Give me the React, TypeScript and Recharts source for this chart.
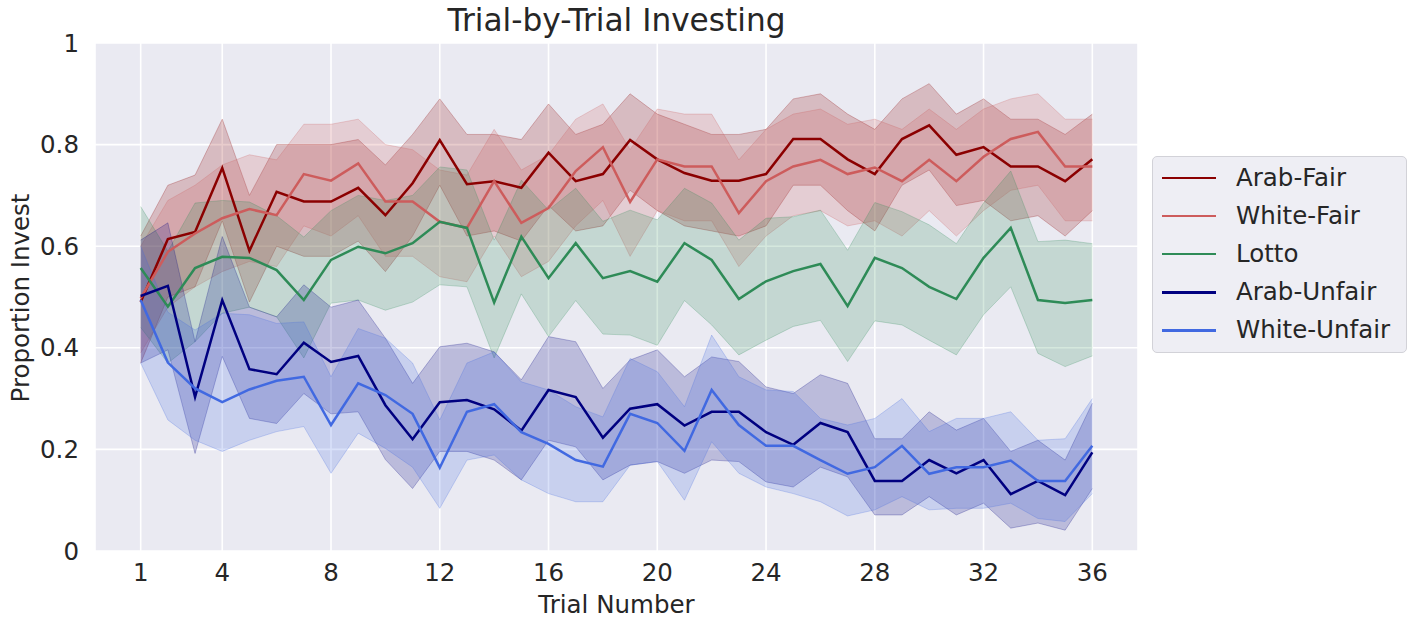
import React from "react";
import { Area, CartesianGrid, ComposedChart, Line, XAxis, YAxis } from "recharts";

// Trial-by-trial mean proportion invested per condition, with the 95% CI band.
const trials = Array.from({ length: 36 }, (_, i) => i + 1);

const arabFair = [0.49, 0.614, 0.628, 0.754, 0.591, 0.707, 0.688, 0.688, 0.715, 0.661, 0.724, 0.809, 0.722, 0.728, 0.715, 0.784, 0.728, 0.742, 0.809, 0.771, 0.744, 0.729, 0.729, 0.742, 0.811, 0.811, 0.771, 0.742, 0.811, 0.838, 0.78, 0.795, 0.757, 0.757, 0.728, 0.771];
const arabFairHi = [0.62, 0.72, 0.74, 0.85, 0.7, 0.8, 0.8, 0.8, 0.81, 0.76, 0.82, 0.89, 0.82, 0.82, 0.81, 0.88, 0.82, 0.84, 0.9, 0.86, 0.84, 0.82, 0.82, 0.83, 0.89, 0.9, 0.86, 0.83, 0.89, 0.92, 0.86, 0.89, 0.85, 0.85, 0.82, 0.86];
const arabFairLo = [0.37, 0.5, 0.52, 0.65, 0.49, 0.6, 0.58, 0.58, 0.61, 0.55, 0.62, 0.72, 0.62, 0.63, 0.61, 0.68, 0.63, 0.64, 0.71, 0.67, 0.64, 0.63, 0.62, 0.64, 0.72, 0.72, 0.67, 0.63, 0.72, 0.75, 0.68, 0.69, 0.65, 0.66, 0.62, 0.67];

const whiteFair = [0.498, 0.589, 0.625, 0.655, 0.673, 0.661, 0.742, 0.729, 0.763, 0.688, 0.688, 0.648, 0.636, 0.728, 0.646, 0.675, 0.748, 0.795, 0.687, 0.771, 0.757, 0.757, 0.665, 0.728, 0.757, 0.77, 0.742, 0.755, 0.728, 0.77, 0.728, 0.776, 0.811, 0.825, 0.757, 0.757];
const whiteFairHi = [0.6, 0.69, 0.72, 0.76, 0.78, 0.77, 0.84, 0.84, 0.85, 0.8, 0.79, 0.75, 0.74, 0.83, 0.75, 0.78, 0.85, 0.88, 0.79, 0.87, 0.86, 0.86, 0.77, 0.83, 0.86, 0.87, 0.84, 0.85, 0.83, 0.87, 0.83, 0.87, 0.89, 0.9, 0.85, 0.85];
const whiteFairLo = [0.39, 0.48, 0.52, 0.55, 0.57, 0.56, 0.64, 0.62, 0.66, 0.58, 0.58, 0.54, 0.53, 0.62, 0.54, 0.57, 0.64, 0.69, 0.58, 0.67, 0.65, 0.65, 0.56, 0.62, 0.66, 0.67, 0.64, 0.65, 0.62, 0.67, 0.62, 0.67, 0.71, 0.72, 0.65, 0.65];

const lotto = [0.557, 0.481, 0.557, 0.579, 0.577, 0.553, 0.494, 0.573, 0.599, 0.586, 0.606, 0.648, 0.636, 0.489, 0.619, 0.537, 0.606, 0.537, 0.551, 0.53, 0.606, 0.573, 0.496, 0.531, 0.551, 0.565, 0.482, 0.577, 0.557, 0.52, 0.496, 0.577, 0.636, 0.494, 0.488, 0.494];
const lottoHi = [0.678, 0.59, 0.685, 0.69, 0.687, 0.66, 0.618, 0.67, 0.7, 0.69, 0.7, 0.756, 0.75, 0.612, 0.73, 0.671, 0.714, 0.649, 0.671, 0.652, 0.714, 0.685, 0.612, 0.655, 0.658, 0.671, 0.592, 0.686, 0.668, 0.642, 0.605, 0.685, 0.748, 0.609, 0.612, 0.605];
const lottoLo = [0.44, 0.37, 0.412, 0.468, 0.48, 0.461, 0.38, 0.488, 0.494, 0.474, 0.49, 0.524, 0.52, 0.38, 0.506, 0.422, 0.493, 0.427, 0.425, 0.405, 0.493, 0.445, 0.386, 0.415, 0.442, 0.454, 0.373, 0.453, 0.445, 0.415, 0.386, 0.465, 0.52, 0.389, 0.363, 0.384];

const arabUnfair = [0.502, 0.522, 0.303, 0.494, 0.358, 0.348, 0.41, 0.372, 0.384, 0.287, 0.22, 0.293, 0.297, 0.279, 0.237, 0.317, 0.303, 0.223, 0.28, 0.289, 0.247, 0.274, 0.274, 0.234, 0.209, 0.252, 0.234, 0.138, 0.138, 0.179, 0.153, 0.179, 0.112, 0.138, 0.11, 0.194];
const arabUnfairHi = [0.612, 0.646, 0.412, 0.619, 0.48, 0.461, 0.524, 0.48, 0.494, 0.419, 0.33, 0.402, 0.409, 0.392, 0.337, 0.422, 0.412, 0.32, 0.376, 0.396, 0.343, 0.382, 0.373, 0.323, 0.31, 0.347, 0.33, 0.221, 0.221, 0.274, 0.238, 0.261, 0.196, 0.218, 0.179, 0.291];
const arabUnfairLo = [0.37, 0.396, 0.192, 0.383, 0.261, 0.251, 0.31, 0.27, 0.274, 0.18, 0.123, 0.196, 0.196, 0.179, 0.14, 0.218, 0.205, 0.14, 0.169, 0.176, 0.153, 0.179, 0.176, 0.136, 0.126, 0.165, 0.146, 0.071, 0.071, 0.107, 0.071, 0.094, 0.045, 0.055, 0.041, 0.123];

const whiteUnfair = [0.494, 0.371, 0.32, 0.293, 0.318, 0.335, 0.343, 0.248, 0.33, 0.307, 0.27, 0.164, 0.274, 0.289, 0.234, 0.211, 0.179, 0.166, 0.27, 0.252, 0.197, 0.317, 0.248, 0.207, 0.207, 0.179, 0.152, 0.165, 0.207, 0.152, 0.165, 0.165, 0.178, 0.138, 0.138, 0.207];
const whiteUnfairHi = [0.6, 0.47, 0.435, 0.468, 0.465, 0.448, 0.451, 0.343, 0.438, 0.419, 0.37, 0.258, 0.37, 0.392, 0.333, 0.317, 0.284, 0.264, 0.379, 0.353, 0.284, 0.425, 0.343, 0.317, 0.314, 0.261, 0.248, 0.261, 0.3, 0.235, 0.261, 0.261, 0.274, 0.218, 0.221, 0.3];
const whiteUnfairLo = [0.37, 0.258, 0.218, 0.196, 0.218, 0.235, 0.245, 0.153, 0.232, 0.202, 0.165, 0.084, 0.179, 0.189, 0.14, 0.113, 0.097, 0.097, 0.169, 0.176, 0.1, 0.215, 0.153, 0.126, 0.113, 0.097, 0.069, 0.081, 0.107, 0.081, 0.084, 0.084, 0.094, 0.064, 0.058, 0.113];

const xTicks = [1, 4, 8, 12, 16, 20, 24, 28, 32, 36];
const yTicks = [0, 0.2, 0.4, 0.6, 0.8, 1];

const series = [
  { key: "af", name: "Arab-Fair", color: "#8b0000" },
  { key: "wf", name: "White-Fair", color: "#cd5c5c" },
  { key: "lo", name: "Lotto", color: "#2e8b57" },
  { key: "au", name: "Arab-Unfair", color: "#000080" },
  { key: "wu", name: "White-Unfair", color: "#4169e1" },
];

const data = trials.map((t, i) => ({
  trial: t,
  af: arabFair[i],
  afBand: [arabFairLo[i], arabFairHi[i]],
  wf: whiteFair[i],
  wfBand: [whiteFairLo[i], whiteFairHi[i]],
  lo: lotto[i],
  loBand: [lottoLo[i], lottoHi[i]],
  au: arabUnfair[i],
  auBand: [arabUnfairLo[i], arabUnfairHi[i]],
  wu: whiteUnfair[i],
  wuBand: [whiteUnfairLo[i], whiteUnfairHi[i]],
}));

const font = "'DejaVu Sans', sans-serif";
const ink = "#262626";
const textSize = 24.5;

function LegendBox() {
  return (
    <div
      style={{
        position: "absolute",
        left: 1152,
        top: 156,
        width: 255,
        height: 197,
        boxSizing: "border-box",
        background: "#eeeef4",
        border: "1px solid #d2d2d8",
        borderRadius: 5,
        paddingTop: 2,
        fontFamily: font,
      }}
    >
      {series.map((s) => (
        <div key={s.key} style={{ display: "flex", alignItems: "center", height: 38.1 }}>
          <div style={{ marginLeft: 9, width: 54, height: 2.4, background: s.color }} />
          <div style={{ marginLeft: 20, fontSize: textSize, color: ink, lineHeight: "28px" }}>{s.name}</div>
        </div>
      ))}
    </div>
  );
}

export default function App() {
  if (typeof document !== "undefined") document.body.style.margin = "0";
  return (
    <div style={{ position: "relative", width: 1418, height: 624, background: "#fff", fontFamily: font }}>
      <ComposedChart width={1418} height={624} data={data} margin={{ top: 43, right: 280, bottom: 0, left: 35 }}>
        <CartesianGrid fill="#eaeaf2" stroke="#ffffff" strokeWidth={1.6} />
        <XAxis
          dataKey="trial"
          type="number"
          domain={[-0.68, 37.68]}
          ticks={xTicks}
          height={73}
          axisLine={false}
          tickLine={false}
          tickSize={0}
          tickMargin={13}
          tick={{ fontSize: textSize, fill: ink, fontFamily: font }}
        />
        <YAxis
          domain={[0, 1]}
          ticks={yTicks}
          width={60}
          axisLine={false}
          tickLine={false}
          tickSize={0}
          tickMargin={16}
          tickFormatter={(v: number) => String(Math.round(v * 10) / 10)}
          tick={{ fontSize: textSize, fill: ink, fontFamily: font }}
        />
        {series.map((s) => (
          <Area
            key={s.key + "Band"}
            type="linear"
            dataKey={s.key + "Band"}
            fill={s.color}
            fillOpacity={0.2}
            stroke={s.color}
            strokeOpacity={0.25}
            strokeWidth={1}
            dot={false}
            activeDot={false}
            isAnimationActive={false}
            legendType="none"
          />
        ))}
        {series.map((s) => (
          <Line
            key={s.key}
            type="linear"
            dataKey={s.key}
            name={s.name}
            stroke={s.color}
            strokeWidth={2.5}
            dot={false}
            activeDot={false}
            isAnimationActive={false}
          />
        ))}
      </ComposedChart>
      <div style={{ position: "absolute", left: 95, width: 1043, top: 2, textAlign: "center", fontSize: 31.2, color: ink }}>
        Trial-by-Trial Investing
      </div>
      <div style={{ position: "absolute", left: 95, width: 1043, top: 590, textAlign: "center", fontSize: textSize, color: ink }}>
        Trial Number
      </div>
      <div
        style={{
          position: "absolute",
          left: 20,
          top: 298,
          transform: "translate(-50%, -50%) rotate(-90deg)",
          whiteSpace: "nowrap",
          fontSize: textSize,
          color: ink,
        }}
      >
        Proportion Invest
      </div>
      <LegendBox />
    </div>
  );
}
